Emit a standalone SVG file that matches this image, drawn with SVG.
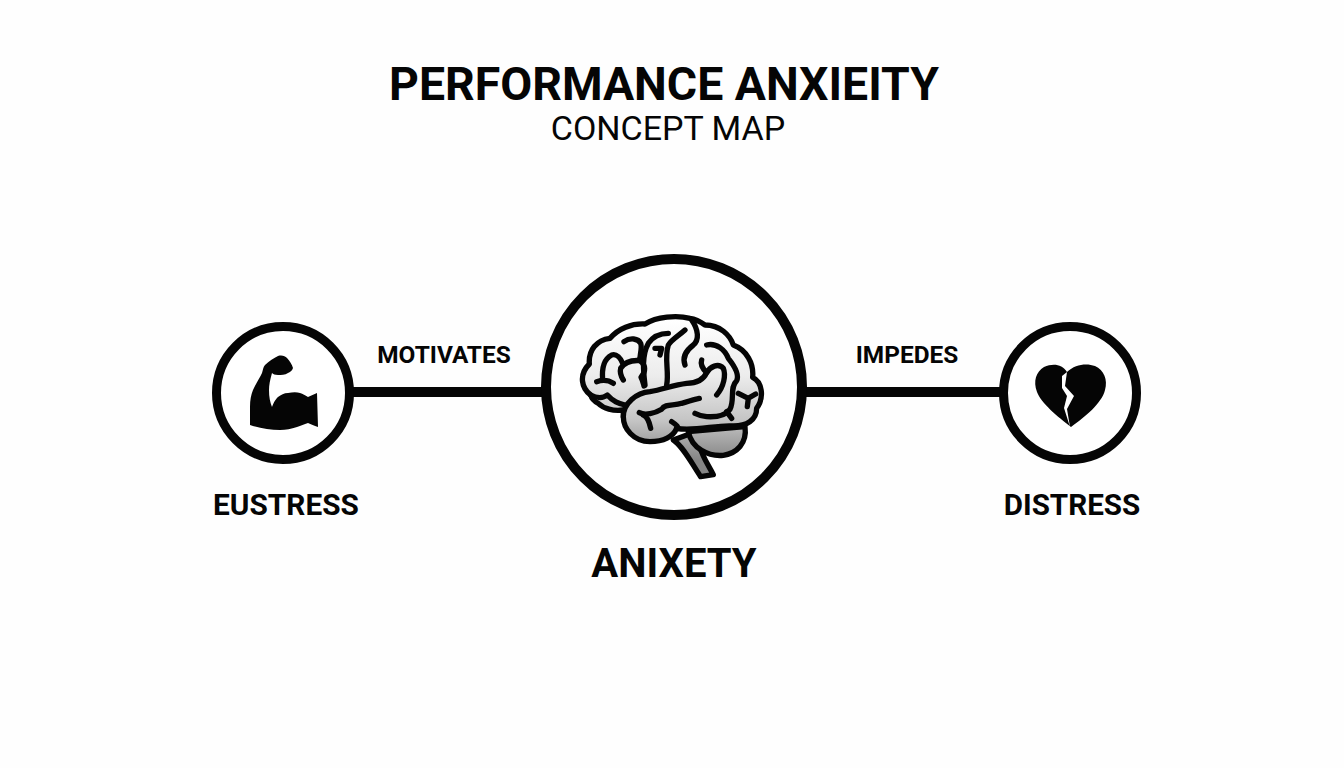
<svg xmlns="http://www.w3.org/2000/svg" width="1344" height="768" viewBox="0 0 1344 768">
<style>
text{font-family:Roboto,"Liberation Sans",sans-serif;fill:#050505;text-anchor:middle}
.b{font-weight:700}
.ring{fill:#fff;stroke:#050505}
.o{stroke:#050505;stroke-width:16;stroke-linecap:round;stroke-linejoin:round;fill:none}
.f{fill:url(#g)}
.line{stroke:#050505;stroke-width:10;fill:none}
</style>
<defs>
<linearGradient id="g" gradientUnits="userSpaceOnUse" x1="0" y1="60" x2="0" y2="480">
<stop offset="0" stop-color="#ffffff"/><stop offset=".4" stop-color="#ececec"/><stop offset=".72" stop-color="#c4c4c4"/><stop offset="1" stop-color="#858585"/>
</linearGradient>
</defs>
<rect width="1344" height="768" fill="#fefefe"/>
<g id="title">
<text class="b" x="664" y="100" font-size="46.4">PERFORMANCE ANXIEITY</text>
<text x="668" y="140" font-size="34">CONCEPT MAP</text>
</g>
<g id="connectors">
<line class="line" x1="350" y1="392" x2="545" y2="392"/>
<line class="line" x1="803" y1="392" x2="1003" y2="392"/>
<text class="b" x="444" y="363" font-size="24.4">MOTIVATES</text>
<text class="b" x="907" y="363" font-size="24.4">IMPEDES</text>
</g>
<g id="eustress">
<circle class="ring" cx="283" cy="393" r="66.5" stroke-width="9"/>
<path fill="#050505" d="M250 425L250 407C250 400 251 395 253 390C256 383 260 378 262 373C263 370 263 367 265 365C269 361 274 358 278 356C282 355 285 356 287 358C290 361 292 365 293 368C292 371 290 372 288 373C285 375 281 375 278 375C275 375 273 374 272 373C270 380 269 385 269 390C269 397 270 402 272 407C274 402 275 400 278 397C281 395 284 393 288 393C293 392 297 392 300 393C303 394 305 395 308 397C311 396 314 394 317 393L318 427C314 426 311 424 308 423C304 424 301 426 297 427C291 429 286 430 280 430C270 430 259 428 250 425Z"/>
<text class="b" x="286" y="515" font-size="29.8">EUSTRESS</text>
</g>
<g id="anxiety">
<circle class="ring" cx="674" cy="387" r="128" stroke-width="10"/>
<g transform="translate(560 300) scale(.3333)">
<path d="M340 420C370 440 395 490 422 530L460 524C442 490 425 465 420 440L395 400Z" class="o f"/>
<path d="M385 395C395 445 445 470 490 466C530 460 562 430 555 380Z" class="o f"/>
<path d="M190 330C160 335 130 325 115 310C105 305 95 295 92 285C65 265 55 225 88 192C85 150 110 120 150 115C175 85 215 70 255 72C290 50 350 45 390 55C410 58 425 68 435 75C480 75 510 105 520 135C560 150 582 190 578 232C605 245 615 290 590 325C590 360 560 380 515 378C470 375 400 395 350 385C340 410 310 425 270 425C220 425 190 385 190 350Z" class="o f"/>
<path class="o" d="M190 350C190 310 230 278 270 275C310 268 340 255 380 250C410 250 430 240 440 218C450 200 475 188 490 205C498 225 492 260 470 285"/>
<path class="o" d="M320 255C328 215 312 175 325 135C335 118 355 108 375 90"/>
<path class="o" d="M255 255C250 215 245 165 265 130C280 108 305 100 325 100"/>
<path class="o" d="M285 145L305 145L300 165"/>
<path class="o" d="M375 195C366 170 380 150 400 135C418 120 416 90 395 60"/>
<path class="o" d="M192 125C210 112 235 115 242 130C248 145 238 165 240 182C215 180 195 185 182 205C178 220 185 232 190 240"/>
<path class="o" d="M240 182C258 195 258 215 243 232C248 240 250 250 252 258"/>
<path class="o" d="M110 245C125 240 145 240 160 250M128 240C125 205 130 178 155 165C170 160 182 175 188 190"/>
<path class="o" d="M92 285C110 295 130 295 142 285C160 305 175 310 195 315"/>
<path class="o" d="M440 135C470 128 495 150 505 175C525 200 538 225 530 242C508 262 525 300 510 328C495 348 470 352 440 350C425 348 415 345 405 340"/>
<path class="o" d="M500 335L515 355"/>
<path class="o" d="M425 180C420 195 430 208 440 218"/>
<path class="o" d="M535 280L565 295L587 282M565 295L562 320"/>
<path class="o" d="M238 338C255 348 285 340 305 328C315 310 340 318 365 310C385 305 400 298 418 295"/>
<path class="o" d="M250 345C262 350 268 365 272 385"/>
<path class="o" d="M335 365C350 375 358 382 350 385"/>
</g>
<text class="b" x="674" y="577" font-size="40">ANIXETY</text>
</g>
<g id="distress">
<circle class="ring" cx="1070" cy="393" r="66.5" stroke-width="9"/>
<path fill="#050505" d="M1071 427C1058 417 1041 403 1037 392C1033 381 1036 372 1044 367C1053 363 1062 364 1067 372C1075 364 1087 363 1095 366C1104 370 1108 380 1105 390C1102 403 1085 417 1071 427Z"/>
<path fill="#fff" d="M1067 372L1062 376L1062 388L1067 396L1064 408L1070 427L1067 409L1074 396L1065 386Z"/>
<text class="b" x="1072" y="515" font-size="29.6">DISTRESS</text>
</g>
</svg>
